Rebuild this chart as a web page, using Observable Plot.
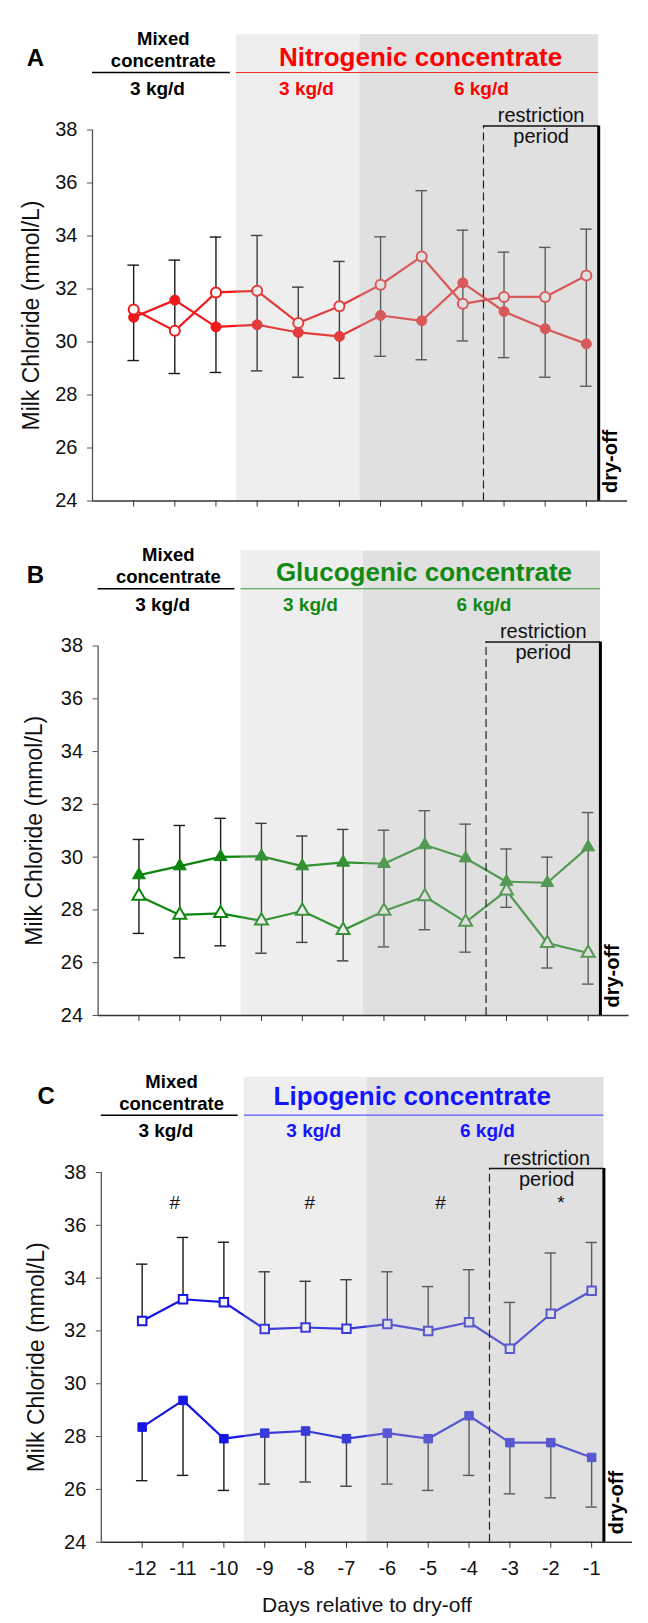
<!DOCTYPE html>
<html><head><meta charset="utf-8">
<script src="https://cdn.jsdelivr.net/npm/d3@7"></script>
<script src="https://cdn.jsdelivr.net/npm/@observablehq/plot@0.6"></script>
<style>
body{margin:0;background:#fff;}
#chart{width:648px;}
#chart svg{display:block;}
</style></head><body><div id="chart"></div>
<script>
// ---------- data ----------
const days = [-12, -11, -10, -9, -8, -7, -6, -5, -4, -3, -2, -1];
const dayLabels = ["-12", "-11", "-10", "-9", "-8", "-7", "-6", "-5", "-4", "-3", "-2", "-1"];
const yTicks = [24, 26, 28, 30, 32, 34, 36, 38];

// Panel A – Nitrogenic concentrate
const nitroFilled = [30.93, 31.58, 30.57, 30.65, 30.36, 30.21, 31.00, 30.80, 32.23, 31.15, 30.50, 29.93];
const nitroOpen   = [31.23, 30.42, 31.87, 31.93, 30.72, 31.35, 32.16, 33.23, 31.44, 31.70, 31.70, 32.51];
const nitroErrHi  = [32.90, 33.09, 33.96, 34.02, 32.07, 33.04, 33.97, 35.71, 34.22, 33.39, 33.57, 34.26];
const nitroErrLo  = [29.30, 28.81, 28.85, 28.91, 28.67, 28.63, 29.46, 29.33, 30.04, 29.41, 28.67, 28.33];

// Panel B – Glucogenic concentrate
const glucoFilled = [29.32, 29.66, 30.01, 30.03, 29.66, 29.80, 29.75, 30.46, 29.96, 29.07, 29.03, 30.38];
const glucoOpen   = [28.53, 27.81, 27.87, 27.59, 27.96, 27.23, 27.96, 28.51, 27.54, 28.73, 26.74, 26.37];
const glucoErrHi  = [30.67, 31.20, 31.47, 31.28, 30.80, 31.05, 31.02, 31.76, 31.25, 30.31, 30.00, 31.69];
const glucoErrLo  = [27.11, 26.19, 26.64, 26.36, 26.77, 26.07, 26.60, 27.25, 26.40, 28.10, 25.80, 25.19];

// Panel C – Lipogenic concentrate
const lipoOpen    = [32.38, 33.20, 33.09, 32.07, 32.13, 32.08, 32.26, 32.00, 32.33, 31.33, 32.65, 33.52];
const lipoFilled  = [28.36, 29.37, 27.92, 28.13, 28.21, 27.92, 28.13, 27.92, 28.79, 27.77, 27.77, 27.21];
const lipoErrHi   = [34.53, 35.54, 35.36, 34.24, 33.88, 33.94, 34.24, 33.68, 34.32, 33.08, 34.95, 35.35];
const lipoErrLo   = [26.33, 26.53, 25.96, 26.20, 26.28, 26.12, 26.20, 25.96, 26.53, 25.83, 25.68, 25.33];

// significance marks (panel C)
const sigDays = [-11.2, -7.9, -4.7, -1.75];
const sigSymbols = ["#", "#", "#", "*"];

// feeding periods (days)
const lightBand = {start: -9.5, end: -6.5};
const darkBand = {start: -6.5, end: -0.7};
const restrictionStart = -3.5;
const dryOff = -0.7;

const FONT = "Arial, 'Liberation Sans', Helvetica, sans-serif";

function panel(cfg) {
  const rows = days.map((d, i) => ({day: d, filled: cfg.filled[i], open: cfg.open[i], hi: cfg.hi[i], lo: cfg.lo[i]}));
  const capW = 0.14;
  const bar = {stroke: "#1a1a1a", strokeWidth: 1.4};
  const errMarks = cfg.split ? [
    Plot.ruleX(rows, {x: "day", y1: cfg.upper, y2: "hi", ...bar}),
    Plot.ruleX(rows, {x: "day", y1: "lo", y2: cfg.lower, ...bar})
  ] : [
    Plot.ruleX(rows, {x: "day", y1: "lo", y2: "hi", ...bar})
  ];
  const marks = [
    ...errMarks,
    Plot.ruleY(rows, {y: "hi", x1: d => d.day - capW, x2: d => d.day + capW, ...bar}),
    Plot.ruleY(rows, {y: "lo", x1: d => d.day - capW, x2: d => d.day + capW, ...bar}),
    Plot.line(rows, {x: "day", y: "filled", stroke: cfg.color, strokeWidth: 2.2}),
    Plot.line(rows, {x: "day", y: "open", stroke: cfg.color, strokeWidth: 2.2}),
    Plot.dot(rows, {x: "day", y: "filled", symbol: cfg.symbol, r: cfg.r, fill: cfg.color, stroke: cfg.color, strokeWidth: 1}),
    Plot.dot(rows, {x: "day", y: "open", symbol: cfg.symbol, r: cfg.r, fill: "white", stroke: cfg.color, strokeWidth: 2}),
    // shaded feeding periods (drawn over the data, semi-transparent)
    Plot.rect([lightBand], {x1: "start", x2: "end", y1: 24, y2: 41.6, fill: "#b4b4b4", fillOpacity: 0.23}),
    Plot.rect([darkBand], {x1: "start", x2: "end", y1: 24, y2: 41.6, fill: "#b4b4b4", fillOpacity: 0.42}),
    // axes
    Plot.ruleX([-13], {y1: 24, y2: 38, stroke: "#555", strokeWidth: 1.3}),
    Plot.ruleY([24], {x1: -13, x2: 0, stroke: "#333", strokeWidth: 1.6}),
    Plot.axisY({ticks: yTicks, tickSize: 5, tickPadding: 10, fontSize: 20, stroke: "#555", fill: "#111", label: null}),
    cfg.xLabels
      ? Plot.axisX({ticks: days, tickSize: 6, tickPadding: 13, fontSize: 20, stroke: "#333", fill: "#111", label: null,
                    tickFormat: d => dayLabels[days.indexOf(d)]})
      : Plot.axisX({ticks: days, tickSize: 6, tickFormat: () => "", stroke: "#333", label: null}),
    // restriction period + dry-off
    Plot.ruleX([restrictionStart], {y1: 24, y2: 38.15, stroke: "#222", strokeWidth: 1.2, strokeDasharray: "8,4"}),
    Plot.ruleY([38.15], {x1: restrictionStart, x2: dryOff, stroke: "#111", strokeWidth: 1.5}),
    Plot.ruleX([dryOff], {y1: 24, y2: 38.15, stroke: "#000", strokeWidth: 3}),
    Plot.text(["restriction"], {x: -2.1, y: 38.3, text: d => d, lineAnchor: "bottom", fontSize: 20, fill: "#111"}),
    Plot.text(["period"], {x: -2.1, y: 37.5, text: d => d, lineAnchor: "bottom", fontSize: 20, fill: "#111"}),
    Plot.text(["dry-off"], {x: -0.4, y: 24.3, text: d => d, rotate: -90, textAnchor: "start", fontSize: 20, fontWeight: "bold", fill: "#000"}),
    // header
    Plot.text([cfg.letter], {x: cfg.letterX, y: cfg.letterY, text: d => d, textAnchor: "start", lineAnchor: "bottom", fontSize: 24, fontWeight: "bold", fill: "#000"}),
    Plot.text(["Mixed\nconcentrate"], {x: -11.28, y: 40.37, text: d => d, lineAnchor: "bottom", lineHeight: 1.2, fontSize: 18.5, fontWeight: "bold", fill: "#000"}),
    Plot.ruleY([40.17], {x1: -13, x2: -9.65, stroke: "#000", strokeWidth: 1.4}),
    Plot.ruleY([40.17], {x1: -9.5, x2: -0.7, stroke: cfg.lineColor, strokeWidth: 1.2}),
    Plot.text([cfg.title], {x: cfg.titleX, y: cfg.titleY, text: d => d, lineAnchor: "bottom", fontSize: 26, fontWeight: "bold", fill: cfg.titleColor}),
    Plot.text(["3 kg/d"], {x: -11.42, y: 39.33, text: d => d, lineAnchor: "bottom", fontSize: 19, fontWeight: "bold", fill: "#000"}),
    Plot.text(["3 kg/d"], {x: -7.8, y: 39.33, text: d => d, lineAnchor: "bottom", fontSize: 19, fontWeight: "bold", fill: cfg.titleColor}),
    Plot.text(["6 kg/d"], {x: -3.55, y: 39.33, text: d => d, lineAnchor: "bottom", fontSize: 19, fontWeight: "bold", fill: cfg.titleColor}),
    // y title
    Plot.text(["Milk Chloride (mmol/L)"], {frameAnchor: "left", dx: cfg.yTitleDx, rotate: -90, textAnchor: "middle", lineAnchor: "middle", text: d => d, fontSize: 23, fill: "#111"})
  ];
  if (cfg.sig) {
    marks.push(Plot.text(sigDays.map((d, i) => ({day: d, s: sigSymbols[i]})), {x: "day", y: 36.83, text: "s", fontSize: 19, fill: "#111"}));
  }
  if (cfg.xLabels) {
    marks.push(Plot.text(["Days relative to dry-off"], {x: -6.5, y: 21.37, text: d => d, lineAnchor: "bottom", fontSize: 21, fill: "#111"}));
  }
  return Plot.plot({
    width: 648,
    height: cfg.height,
    marginTop: cfg.mt, marginBottom: cfg.mb, marginLeft: cfg.ml, marginRight: cfg.mr,
    x: {domain: [-13, 0]},
    y: {domain: [24, 38]},
    style: {fontFamily: FONT, background: "white", color: "#111"},
    marks
  });
}

const chart = document.getElementById("chart");
chart.append(panel({
  filled: nitroFilled, open: nitroOpen, hi: nitroErrHi, lo: nitroErrLo, split: false,
  color: "#f01818", titleColor: "#ff0000", lineColor: "#ff2a2a", symbol: "circle", r: 5,
  letter: "A", letterX: -14.6, letterY: 40.43, title: "Nitrogenic concentrate", titleX: -5.03, titleY: 40.43,
  height: 516, mt: 129.5, mb: 15.5, ml: 92, mr: 21, yTitleDx: -61, xLabels: false
}));
chart.append(panel({
  filled: glucoFilled, open: glucoOpen, hi: glucoErrHi, lo: glucoErrLo, split: false,
  color: "#0e860e", titleColor: "#128a12", lineColor: "#3a9a3a", symbol: "triangle", r: 4.8,
  letter: "B", letterX: -14.75, letterY: 40.37, title: "Glucogenic concentrate", titleX: -5.02, titleY: 40.48,
  height: 516, mt: 129.5, mb: 17, ml: 97.6, mr: 19.5, yTitleDx: -63.6, xLabels: false
}));
chart.append(panel({
  filled: lipoFilled, open: lipoOpen, hi: lipoErrHi, lo: lipoErrLo, split: true, upper: "open", lower: "filled",
  color: "#1616e6", titleColor: "#1414ff", lineColor: "#5a5aff", symbol: "square", r: 4.8,
  letter: "C", letterX: -14.56, letterY: 40.61, title: "Lipogenic concentrate", titleX: -5.39, titleY: 40.54,
  height: 591, mt: 140, mb: 81.3, ml: 100.8, mr: 16, yTitleDx: -64.8, xLabels: true, sig: true
}));
</script>
</body></html>
